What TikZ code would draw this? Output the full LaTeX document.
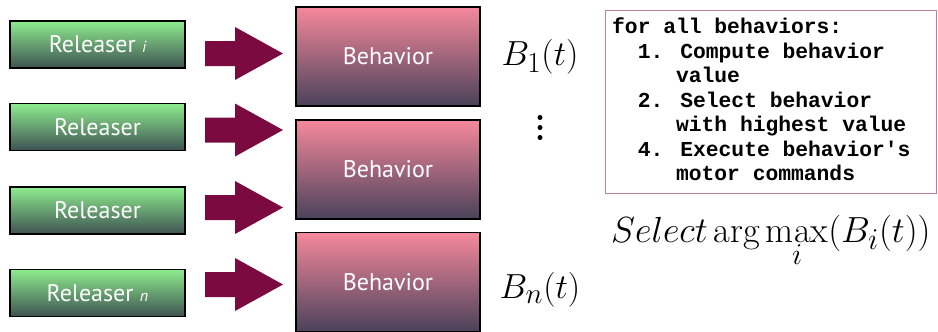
\documentclass[tikz,border=0pt]{standalone}
\usepackage{fontspec}
\newfontfamily\gillfont{PT Sans}
\newfontfamily\codefont{Liberation Mono}
\definecolor{relTop}{RGB}{142,236,142}
\definecolor{relBot}{RGB}{62,82,82}
\definecolor{behTop}{RGB}{246,136,156}
\definecolor{behBot}{RGB}{74,66,90}
\definecolor{arrowc}{RGB}{122,10,64}
\definecolor{codeborder}{RGB}{192,124,152}
\tikzset{
  releaser/.style={rectangle, draw=black, line width=1.5pt, minimum width=175pt, minimum height=47pt,
    top color=relTop, bottom color=relBot, text=white, inner sep=0pt,
    font=\gillfont\fontsize{24}{26}\selectfont},
  behavior/.style={rectangle, draw=black, line width=1.5pt, minimum width=184pt, minimum height=99pt,
    top color=behTop, bottom color=behBot, text=white, inner sep=0pt,
    font=\gillfont\fontsize{24}{26}\selectfont},
  blockarrow/.style={fill=arrowc, draw=none},
  mathlabel/.style={inner sep=0pt, font=\fontsize{24.88}{30}\selectfont},
  vdot/.style={fill=black, draw=none},
  codebox/.style={rectangle, draw=codeborder, line width=1.2pt, minimum width=331pt, minimum height=183pt, inner sep=0pt},
  codetext/.style={inner sep=0pt, align=left, font=\codefont\bfseries\fontsize{21.3}{24.5}\selectfont},
}
\newcommand{\smallidx}[1]{{\fontsize{16}{16}\selectfont\itshape #1}}
\newcommand{\bigmath}[2]{\scalebox{#1}{$\displaystyle #2$}}
\begin{document}
\begin{tikzpicture}[x=1pt,y=-1pt]
\useasboundingbox (0,0) rectangle (938,332);
% releasers
\node[releaser] (r1) at (97.5,44.5) {Releaser \smallidx{i}};
\node[releaser] (r2) at (97.5,127) {Releaser};
\node[releaser] (r3) at (97.5,210.5) {Releaser};
\node[releaser] (r4) at (97.5,293) {Releaser \smallidx{n}};
% behaviors
\node[behavior] (b1) at (388,56.5) {Behavior};
\node[behavior] (b2) at (388,169.5) {Behavior};
\node[behavior] (b3) at (388,282) {Behavior};
% block arrows
\coordinate (a1) at (205,53.5);
\coordinate (a2) at (205,130);
\coordinate (a3) at (205,207.5);
\coordinate (a4) at (205,284.5);
\foreach \a in {a1,a2,a3,a4}{
  \fill[blockarrow] (\a) ++(0,-12.5) -- ++(30,0) -- ++(0,-14) -- ++(48,26.5) -- ++(-48,26.5) -- ++(0,-14) -- ++(-30,0) -- cycle;
}
% labels
\node[mathlabel] (l1) at (540,57) {\bigmath{1.4}{B_1(t)}};
\coordinate (ld) at (540,127.5);
\fill[vdot] (ld) ++(0,-10) circle (2.5);
\fill[vdot] (ld) circle (2.5);
\fill[vdot] (ld) ++(0,10) circle (2.5);
\node[mathlabel] (ln) at (540,290) {\bigmath{1.4}{B_n(t)}};
% code box
\node[codebox, anchor=north west] (cb) at (605,10) {};
\node[codetext, anchor=north west] (code) at (612,18) {for all behaviors:\\
~~1. Compute behavior\\
~~~~~value\\
~~2. Select behavior\\
~~~~~with highest value\\
~~4. Execute behavior's\\
~~~~~motor commands};
\node[mathlabel, anchor=base west] (sel) at (611,242) {\bigmath{1.46}{Select\arg\max_i(B_i(t))}};
\end{tikzpicture}
\end{document}
